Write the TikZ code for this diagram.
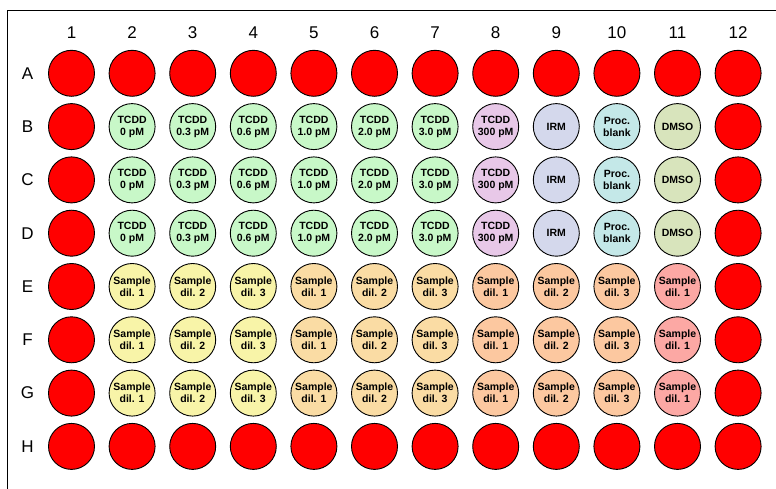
\documentclass[tikz,border=0pt]{standalone}
\usepackage{fontspec}
\setmainfont{Liberation Sans}
\definecolor{wred}{RGB}{255,0,0}
\definecolor{wgreen}{RGB}{200,248,200}
\definecolor{wpurple}{RGB}{232,200,232}
\definecolor{wlav}{RGB}{212,216,236}
\definecolor{wcyan}{RGB}{196,232,232}
\definecolor{wdmso}{RGB}{216,228,188}
\definecolor{wyellow}{RGB}{248,244,168}
\definecolor{worange}{RGB}{250,220,164}
\definecolor{wpeach}{RGB}{252,200,160}
\definecolor{wpink}{RGB}{252,168,164}
\begin{document}
\begin{tikzpicture}[x=1pt,y=-1pt,
  well/.style={circle,draw=black,line width=0.9pt,minimum size=46pt,inner sep=0pt,
    align=center,font=\fontsize{10.5}{12}\selectfont\bfseries},
  hdr/.style={font=\fontsize{17}{19}\selectfont}]
\useasboundingbox (0,0) rectangle (776,489);
\fill[white] (0,0) rectangle (776,489);
\draw[line width=0.9pt] (7.5,489) -- (7.5,10.5) -- (776,10.5);
% column headers
\foreach \c in {1,...,12}
  \node[hdr] (col\c) at ({71.5+(\c-1)*60.6},33) {\c};
% row headers
\foreach \r/\L in {1/A,2/B,3/C,4/D,5/E,6/F,7/G,8/H}
  \node[hdr] (row\L) at (27.5,{73.3+(\r-1)*53.3}) {\L};
% red wells: rows A and H, columns 1 and 12
\foreach \c in {1,...,12}{
  \node[well,fill=wred] (wA\c) at ({71.5+(\c-1)*60.6},73.3) {};
  \node[well,fill=wred] (wH\c) at ({71.5+(\c-1)*60.6},{73.3+7*53.3}) {};
}
\foreach \r/\L in {2/B,3/C,4/D,5/E,6/F,7/G}{
  \node[well,fill=wred] (w\L1) at (71.5,{73.3+(\r-1)*53.3}) {};
  \node[well,fill=wred] (w\L12) at ({71.5+11*60.6},{73.3+(\r-1)*53.3}) {};
}
% rows B-D
\foreach \r/\L in {2/B,3/C,4/D}{
  \foreach \c/\col/\txt in {2/wgreen/{TCDD\\0 pM},3/wgreen/{TCDD\\0.3 pM},4/wgreen/{TCDD\\0.6 pM},
      5/wgreen/{TCDD\\1.0 pM},6/wgreen/{TCDD\\2.0 pM},7/wgreen/{TCDD\\3.0 pM},
      8/wpurple/{TCDD\\300 pM},9/wlav/{IRM},10/wcyan/{Proc.\\blank},11/wdmso/{DMSO}}
    \node[well,fill=\col] (w\L\c) at ({71.5+(\c-1)*60.6},{73.3+(\r-1)*53.3}) {\txt};
}
% rows E-G
\foreach \r/\L in {5/E,6/F,7/G}{
  \foreach \c/\col/\d in {2/wyellow/1,3/wyellow/2,4/wyellow/3,5/worange/1,6/worange/2,7/worange/3,
      8/wpeach/1,9/wpeach/2,10/wpeach/3,11/wpink/1}
    \node[well,fill=\col] (w\L\c) at ({71.5+(\c-1)*60.6},{73.3+(\r-1)*53.3}) {Sample\\dil. \d};
}
\end{tikzpicture}
\end{document}
